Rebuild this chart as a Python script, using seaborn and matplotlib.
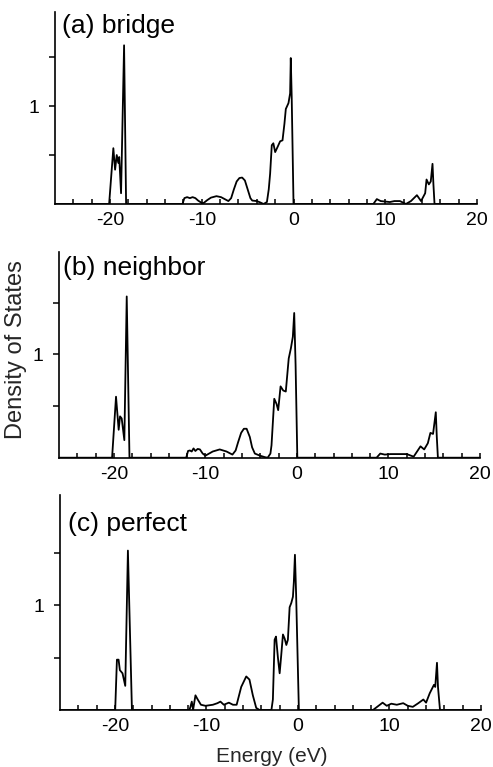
import numpy as np
import pandas as pd
import matplotlib
matplotlib.use("Agg")
import matplotlib.pyplot as plt
import seaborn as sns
from matplotlib.ticker import FixedLocator

# ---------------- data ----------------
panel_labels = ["(a) bridge", "(b) neighbor", "(c) perfect"]
xtick_values = [-20, -10, 0, 10, 20]
xtick_labels = ["-20", "-10", "0", "10", "20"]
ytick_values = [0.5, 1.0, 1.5]
ytick_labels = ["", "1", ""]

energy_a = [-26, -20.1, -19.64, -19.45, -19.27, -19.1, -19.0, -18.8, -18.47, -18.25,
            -12.1, -11.9, -11.6, -11.3, -11.0, -10.7, -10.4, -10.0, -9.8, -9.4, -9.0,
            -8.4, -7.9, -7.4, -7.1, -6.8, -6.5, -6.2, -5.9, -5.6, -5.3, -5.0, -4.7,
            -4.5, -4.0, -3.6, -3.27, -2.9, -2.7, -2.55, -2.37, -2.2, -2.0, -1.75,
            -1.46, -1.2, -0.99, -0.84, -0.55, -0.37, -0.3, -0.2, 0.0,
            8.7, 9.08, 9.5, 10.0, 10.5, 11.0, 11.6, 12.25, 12.8, 13.45, 13.9, 14.35,
            14.5, 14.75, 14.96, 15.15, 15.25, 15.37, 20]
dos_a = [0, 0, 0.57, 0.35, 0.50, 0.42, 0.48, 0.11, 1.62, 0,
         0, 0.06, 0.07, 0.06, 0.07, 0.06, 0.035, 0.01, 0.01, 0.04, 0.065,
         0.08, 0.07, 0.045, 0.03, 0.06, 0.15, 0.23, 0.265, 0.27, 0.24, 0.15, 0.06,
         0.035, 0.03, 0.015, 0, 0.02, 0.15, 0.31, 0.60, 0.62, 0.53, 0.58,
         0.64, 0.65, 0.82, 0.97, 1.03, 1.13, 1.49, 1.1, 0,
         0, 0.05, 0.03, 0.025, 0.02, 0.03, 0.03, 0, 0.03, 0.09, 0.03, 0.11,
         0.25, 0.20, 0.23, 0.41, 0.20, 0, 0]

energy_b = [-26, -20.2, -19.77, -19.48, -19.33, -19.15, -18.86, -18.6, -18.3,
            -12.1, -11.9, -11.7, -11.5, -11.3, -11.1, -10.85, -10.6, -10.3, -10.0,
            -9.6, -9.2, -8.44, -7.7, -7.05, -6.7, -6.43, -6.1, -5.8, -5.5, -5.15,
            -4.9, -4.6, -4.05, -3.5, -3.2, -2.9, -2.78, -2.48, -2.23, -2.05, -1.79,
            -1.5, -1.22, -0.9, -0.66, -0.45, -0.3, -0.15, 0.04,
            8.7, 9.1, 9.6, 10.2, 11.0, 12.0, 12.75, 13.5, 13.9, 14.3, 14.58, 14.87,
            15.17, 15.28, 15.4, 20]
dos_b = [0, 0, 0.59, 0.27, 0.40, 0.38, 0.17, 1.56, 0,
         0, 0.065, 0.07, 0.06, 0.09, 0.065, 0.085, 0.08, 0.04, 0.02,
         0.04, 0.06, 0.08, 0.06, 0.03, 0.07, 0.15, 0.24, 0.28, 0.28, 0.20,
         0.10, 0.04, 0.02, 0.005, 0, 0.04, 0.12, 0.57, 0.52, 0.46, 0.69,
         0.65, 0.64, 0.96, 1.06, 1.17, 1.40, 0.9, 0,
         0, 0.04, 0.03, 0.035, 0.035, 0.035, 0.01, 0.11, 0.08, 0.14, 0.24, 0.23,
         0.44, 0.20, 0, 0]

energy_c = [-26, -19.97, -19.78, -19.6, -19.46, -19.17, -18.87, -18.58, -18.14,
            -11.86, -11.75, -11.6, -11.46, -11.2, -10.95, -10.6, -10.1, -9.3, -8.8,
            -8.47, -8.1, -7.55, -7.1, -6.7, -6.2, -5.65, -5.3, -4.93, -4.56, -4.2,
            -2.9, -2.74, -2.55, -2.4, -2.19, -2.0, -1.83, -1.64, -1.45, -1.27, -1.1,
            -0.91, -0.73, -0.55, -0.45, -0.33, -0.2, 0.1,
            8.2, 8.5, 9.25, 9.7, 10.2, 10.8, 11.5, 12.0, 12.55, 13.15, 13.7, 14.0,
            14.4, 14.86, 15.0, 15.19, 15.3, 15.52, 20]
dos_c = [0, 0, 0.48, 0.48, 0.38, 0.35, 0.23, 1.52, 0,
         0, 0.03, 0.08, 0.0, 0.14, 0.10, 0.05, 0.04, 0.05, 0.065,
         0.08, 0.05, 0.07, 0.05, 0.05, 0.22, 0.32, 0.29, 0.14, 0.02, 0,
         0, 0.10, 0.67, 0.70, 0.50, 0.35, 0.52, 0.72, 0.68, 0.62, 0.67,
         0.98, 1.02, 1.08, 1.22, 1.48, 1.10, 0,
         0, 0.02, 0.07, 0.04, 0.06, 0.05, 0.065, 0.04, 0.03, 0.065, 0.10, 0.07,
         0.16, 0.24, 0.22, 0.45, 0.22, 0, 0]

energies = [energy_a, energy_b, energy_c]
dos = [dos_a, dos_b, dos_c]

# ---------------- layout ----------------
sns.set_style("ticks")
plt.rcParams["font.family"] = ["Liberation Sans", "DejaVu Sans"]

W, H = 493, 767
fig = plt.figure(figsize=(W / 100, H / 100), dpi=100)

# (left, right, bottom, top) in pixels
boxes = [(55, 477, 204, 12), (59, 480, 457.7, 252), (60, 481, 710, 495)]
ytops = [1.96, 1.99, 2.05]
label_pos = [(0.017, 0.99), (0.01, 0.98), (0.02, 0.92)]

for i in range(3):
    l, r, b, t = boxes[i]
    ax = fig.add_axes([l / W, (H - b) / H, (r - l) / W, (b - t) / H])
    df = pd.DataFrame({"E": energies[i], "D": dos[i]})
    sns.lineplot(data=df, x="E", y="D", ax=ax, color="black", linewidth=1.3,
                 estimator=None, sort=False)
    ax.set_xlim(-26, 20)
    ax.set_ylim(0, ytops[i])
    sns.despine(ax=ax)
    for s in ["left", "bottom"]:
        ax.spines[s].set_linewidth(1.2)
        ax.spines[s].set_color("black")
    ax.xaxis.set_major_locator(FixedLocator(xtick_values))
    ax.set_xticklabels(xtick_labels)
    ax.xaxis.set_minor_locator(FixedLocator([v for v in range(-24, 21, 2) if v % 10 != 0]))
    ax.tick_params(axis="x", which="both", direction="in", length=3.5, width=1.1,
                   labelsize=14, pad=6, colors="black")
    ax.yaxis.set_major_locator(FixedLocator(ytick_values))
    ax.set_yticklabels(ytick_labels)
    ax.tick_params(axis="y", direction="out", length=4.5, width=1.1,
                   labelsize=14, pad=7, colors="black")
    ax.set_xlabel("")
    ax.set_ylabel("")
    ax.text(label_pos[i][0], label_pos[i][1], panel_labels[i], transform=ax.transAxes,
            ha="left", va="top", fontsize=19, color="black")

fig.text(16 / W, 1 - 350 / H, "Density of States", rotation=90, ha="center",
         va="center", fontsize=17)
fig.text(272 / W, 1 - 757 / H, "Energy (eV)", ha="center", va="center", fontsize=15)

fig.savefig("out.png", dpi=100)
